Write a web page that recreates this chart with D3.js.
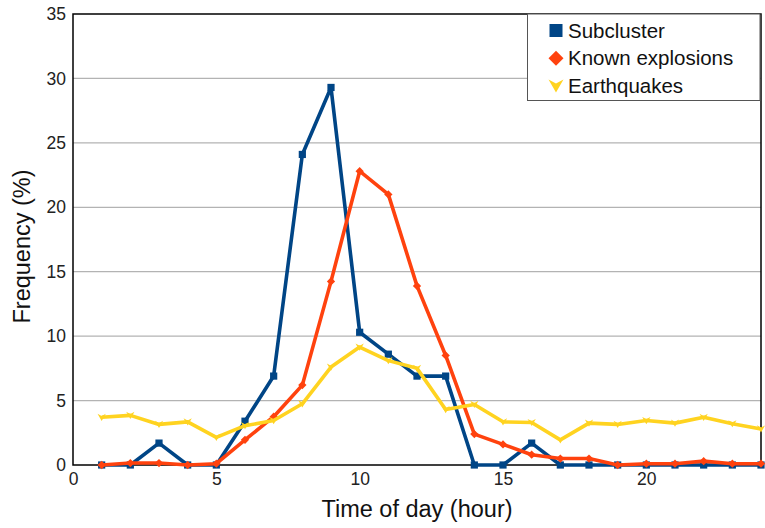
<!DOCTYPE html>
<html>
<head>
<meta charset="utf-8">
<style>
body { margin: 0; background: #fff; }
text { font-family: "Liberation Sans", Arial, sans-serif; }
</style>
</head>
<body>
<div id="chart"></div>
<script src="https://d3js.org/d3.v7.min.js"></script>
<script>
// hours of the day
var hours = d3.range(1, 25);

// frequency (%) per hour
var subcluster = [0, 0, 1.7, 0, 0, 3.4, 6.9, 24.1, 29.3, 10.3, 8.6, 6.9,
                  6.9, 0, 0, 1.7, 0, 0, 0, 0, 0, 0, 0, 0];
var explosions = [0, 0.15, 0.15, 0, 0.1, 1.95, 3.75, 6.2, 14.25, 22.8, 21.0, 13.9,
                  8.5, 2.4, 1.6, 0.8, 0.5, 0.5, 0, 0.1, 0.1, 0.3, 0.1, 0.1];
var earthquakes = [3.7, 3.85, 3.15, 3.35, 2.15, 3.05, 3.45, 4.75, 7.6, 9.15, 8.1, 7.5,
                   4.3, 4.7, 3.35, 3.3, 1.95, 3.25, 3.15, 3.45, 3.25, 3.7, 3.2, 2.8];

var xTicks = [0, 5, 10, 15, 20];
var yTicks = [0, 5, 10, 15, 20, 25, 30, 35];

var series = [
    {name: "Subcluster", values: subcluster, color: "#004586", shape: "square"},
    {name: "Known explosions", values: explosions, color: "#ff420e", shape: "diamond"},
    {name: "Earthquakes", values: earthquakes, color: "#ffd320", shape: "down"}
];

var W = 765, H = 528;
var m = {left: 73, right: 4, top: 14, bottom: 63};

var svg = d3.select("#chart").append("svg").attr("width", W).attr("height", H);

var x = d3.scaleLinear().domain([0, 24]).range([m.left, W - m.right]);
var y = d3.scaleLinear().domain([0, 35]).range([H - m.bottom, m.top]);

// gridlines
svg.append("g").selectAll("line").data(yTicks.slice(1, -1)).join("line")
    .attr("x1", x(0)).attr("x2", x(24))
    .attr("y1", d => y(d)).attr("y2", d => y(d))
    .attr("stroke", "#b3b3b3").attr("stroke-width", 1.3);

// axes
var xAxis = svg.append("g").attr("transform", "translate(0," + y(0) + ")")
    .call(d3.axisBottom(x).tickValues(xTicks).tickSize(0).tickPadding(8));
var yAxis = svg.append("g").attr("transform", "translate(" + x(0) + ",0)")
    .call(d3.axisLeft(y).tickValues(yTicks).tickSize(0).tickPadding(7));
[xAxis, yAxis].forEach(function (a) {
    a.select(".domain").remove();
    a.selectAll("text").attr("font-size", 17.5).attr("fill", "#222")
        .attr("font-family", "'Liberation Sans', Arial, sans-serif");
});

// frame
svg.append("rect")
    .attr("x", x(0)).attr("y", y(35))
    .attr("width", x(24) - x(0)).attr("height", y(0) - y(35))
    .attr("fill", "none").attr("stroke", "#000").attr("stroke-width", 1.5);

// lines
var line = d3.line().x((d, i) => x(hours[i])).y(d => y(d));

function marker(sel, shape, cx, cy, s) {
    if (shape === "square") {
        sel.append("rect").attr("x", cx - s).attr("y", cy - s)
            .attr("width", 2 * s).attr("height", 2 * s);
    } else if (shape === "diamond") {
        sel.append("path").attr("d", "M" + cx + "," + (cy - s * 1.15) + "L" + (cx + s * 1.15) + "," + cy +
            "L" + cx + "," + (cy + s * 1.15) + "L" + (cx - s * 1.15) + "," + cy + "Z");
    } else {
        sel.append("path").attr("d", "M" + (cx - s * 1.15) + "," + (cy - s) + "L" + cx + "," + (cy - s * 0.4) +
            "L" + (cx + s * 1.15) + "," + (cy - s) + "L" + cx + "," + (cy + s) + "Z");
    }
}

series.forEach(function (s) {
    var g = svg.append("g").attr("fill", s.color);
    g.append("path").datum(s.values)
        .attr("d", line).attr("fill", "none")
        .attr("stroke", s.color).attr("stroke-width", 3.6)
        .attr("stroke-linejoin", "round");
    s.values.forEach(function (v, i) {
        marker(g, s.shape, x(hours[i]), y(v), 3.6);
    });
});

// legend
var lg = svg.append("g");
lg.append("rect").attr("x", 527.5).attr("y", 14).attr("width", 232.5).attr("height", 86.5)
    .attr("fill", "#fff").attr("stroke", "#555").attr("stroke-width", 1);
series.forEach(function (s, i) {
    var cy = 30.5 + i * 27.8;
    var g = lg.append("g").attr("fill", s.color);
    marker(g, s.shape, 556, cy, 6.5);
    lg.append("text").attr("x", 568).attr("y", cy + 7)
        .attr("font-size", 20.5).attr("fill", "#111").text(s.name);
});

// axis titles
svg.append("text").attr("x", (x(0) + x(24)) / 2).attr("y", 517)
    .attr("text-anchor", "middle").attr("font-size", 23.5)
    .attr("font-family", "'Open Sans', sans-serif").attr("fill", "#111")
    .text("Time of day (hour)");
svg.append("text").attr("transform", "translate(30," + ((y(0) + y(35)) / 2 + 7) + ") rotate(-90)")
    .attr("text-anchor", "middle").attr("font-size", 23.5)
    .attr("font-family", "'Open Sans', sans-serif").attr("fill", "#111")
    .text("Frequency (%)");
</script>
</body>
</html>
